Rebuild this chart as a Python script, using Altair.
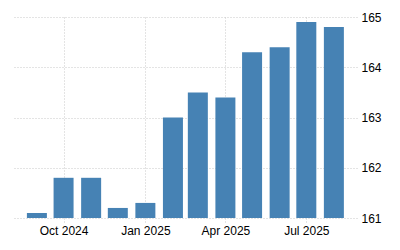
import altair as alt
import pandas as pd

months = ["2024-09-01", "2024-10-01", "2024-11-01", "2024-12-01", "2025-01-01", "2025-02-01",
          "2025-03-01", "2025-04-01", "2025-05-01", "2025-06-01", "2025-07-01", "2025-08-01"]
values = [161.1, 161.8, 161.8, 161.2, 161.3, 163.0, 163.5, 163.4, 164.3, 164.4, 164.9, 164.8]
y_ticks = [161, 162, 163, 164, 165]
x_ticks = [(2024, 10), (2025, 1), (2025, 4), (2025, 7)]

df = pd.DataFrame({"date": months, "value": values})

grid_color = "#c8c8c8"
text_color = "#000000"

chart = alt.Chart(df).mark_bar(size=20, color="#4682b4").encode(
    x=alt.X(
        "date:T",
        scale=alt.Scale(
            type="utc",
            padding=0,
            domain=[alt.DateTime(year=2024, month=8, date=4, utc=True),
                    alt.DateTime(year=2025, month=8, date=27, utc=True)],
        ),
        axis=alt.Axis(
            title=None,
            values=[alt.DateTime(year=y, month=m, date=1, utc=True) for y, m in x_ticks],
            labelExpr="utcFormat(datum.value, '%b %Y')",
            grid=True,
            gridColor=grid_color,
            gridDash=[1, 2],
            gridWidth=1,
            domain=False,
            ticks=True,
            tickColor=grid_color,
            tickDash=[1, 2],
            tickSize=5,
            labelPadding=2,
            labelFont="Liberation Sans",
            labelFontSize=12,
            labelColor=text_color,
        ),
    ),
    y=alt.Y(
        "value:Q",
        scale=alt.Scale(domain=[161, 165], zero=False, nice=False),
        axis=alt.Axis(
            title=None,
            orient="right",
            values=y_ticks,
            format="d",
            grid=True,
            gridColor=grid_color,
            gridDash=[1, 2],
            gridWidth=1,
            domain=False,
            ticks=False,
            labelPadding=4,
            labelFont="Liberation Sans",
            labelFontSize=12,
            labelColor=text_color,
        ),
    ),
    y2=alt.datum(161),
).properties(
    width=345,
    height=201,
    autosize=alt.AutoSizeParams(type="none"),
    padding={"left": 12, "top": 17, "right": 43, "bottom": 32},
    background="white",
).configure_view(stroke=None)

chart.save("out.html", embed_options={"renderer": "svg", "actions": False})
